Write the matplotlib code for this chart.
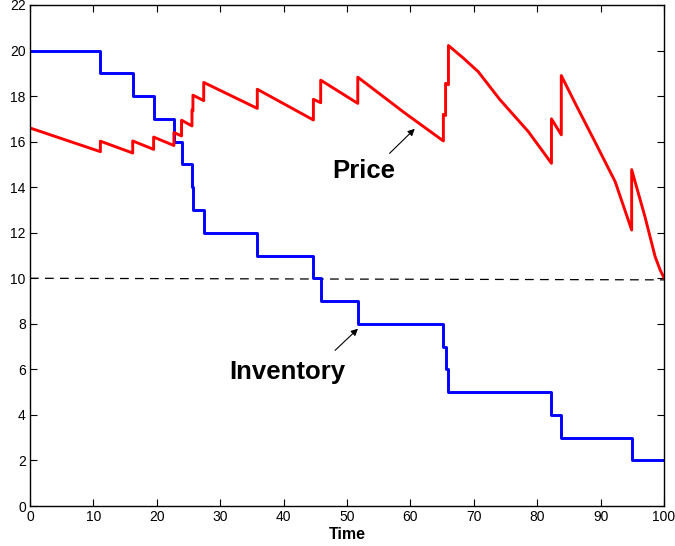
import matplotlib
matplotlib.use("Agg")
import matplotlib.pyplot as plt

# Inventory (step function, value holds until next time)
inv_times = [0, 11.1, 16.2, 19.5, 22.7, 23.9, 25.55, 25.7, 27.4, 35.85, 44.7, 45.85,
             51.7, 65.2, 65.55, 66.0, 82.25, 83.8, 94.9, 100]
inv_values = [20, 19, 18, 17, 16, 15, 14, 13, 12, 11, 10, 9,
              8, 7, 6, 5, 4, 3, 2, 2]

# Price (jumps at inventory drops)
price_times = [0, 11.1, 11.1, 16.2, 16.2, 19.5, 19.5, 22.7, 22.7, 23.9, 23.9,
               25.55, 25.55, 25.7, 25.7, 27.4, 27.4, 35.85, 35.85, 44.7, 44.7,
               45.85, 45.85, 51.7, 51.7, 59.15, 65.2, 65.2, 65.55, 65.55, 66.0, 66.0,
               68.3, 70.7, 74.1, 78.6, 82.25, 82.25, 83.8, 83.8, 86.0, 89.1, 92.3, 94.9,
               94.9, 97.0, 98.6, 99.4, 100]
price_values = [16.6, 15.56, 16.02, 15.5, 16.03, 15.66, 16.2, 15.83, 16.4, 16.25, 16.94,
                16.69, 17.39, 17.35, 18.04, 17.8, 18.6, 17.46, 18.3, 16.95, 17.86,
                17.71, 18.7, 17.68, 18.83, 17.25, 16.03, 17.2, 17.15, 18.56, 18.5, 20.22,
                19.68, 19.07, 17.85, 16.44, 15.05, 17.0, 16.3, 18.9, 17.68, 16.0, 14.24, 12.12,
                14.77, 12.7, 10.95, 10.36, 10.02]

# Reference (dashed) line
ref_times = [0, 100]
ref_values = [10.0, 9.93]

x_ticks = list(range(0, 101, 10))
y_ticks = list(range(0, 23, 2))

plt.rcParams['font.family'] = ['Liberation Sans', 'DejaVu Sans']

fig = plt.figure(figsize=(6.75, 5.46), dpi=100)
ax = fig.add_axes([30/675, 1 - 506/546, (664 - 30)/675, (506 - 5)/546])

ax.plot(ref_times, ref_values, color='black', lw=0.9, linestyle=(0, (7, 5)))
ax.plot(inv_times, inv_values, color='#0000ff', lw=2.1, drawstyle='steps-post')
ax.plot(price_times, price_values, color='#ff0000', lw=2.1)

ax.set_xlim(0, 100)
ax.set_ylim(0, 22)
ax.set_xticks(x_ticks)
ax.set_yticks(y_ticks)
ax.tick_params(direction='in', top=True, right=True, length=5, width=0.8,
               labelsize=10, pad=3)
for s in ax.spines.values():
    s.set_linewidth(1.0)

ax.set_xlabel('Time', fontsize=11.5, fontweight='bold', labelpad=2)

ax.annotate('', xy=(61.0, 16.65), xytext=(56.4, 15.4),
            arrowprops=dict(arrowstyle='-|>', color='black', lw=0.8, mutation_scale=10))
ax.text(52.7, 14.7, 'Price', fontsize=18.5, fontweight='bold', ha='center', va='center')

ax.annotate('', xy=(52.05, 7.87), xytext=(47.8, 6.75),
            arrowprops=dict(arrowstyle='-|>', color='black', lw=0.8, mutation_scale=10))
ax.text(40.6, 5.9, 'Inventory', fontsize=18.5, fontweight='bold', ha='center', va='center')

fig.savefig('out.png', dpi=100)
